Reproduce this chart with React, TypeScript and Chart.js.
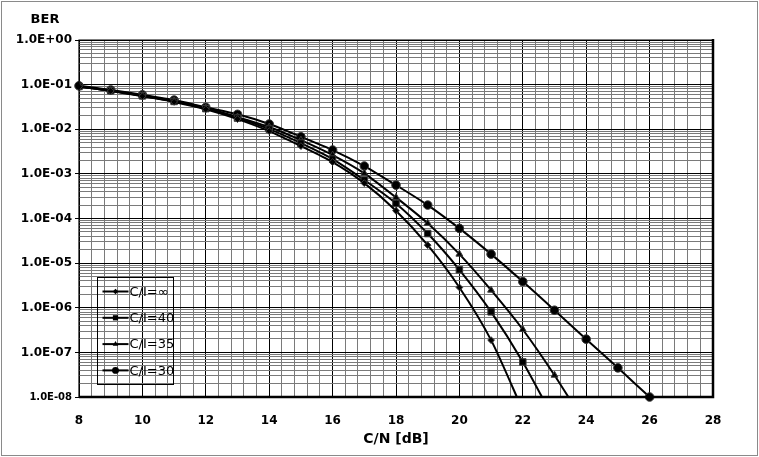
import React, { useEffect, useRef } from 'react';
import { Chart, registerables } from 'chart.js';

Chart.register(...registerables);

// ---- data ----
const cnDb = [8, 9, 10, 11, 12, 13, 14, 15, 16, 17, 18, 19, 20, 21, 22, 23, 24, 25, 26];
const berInf = [0.090, 0.072, 0.055, 0.041, 0.028, 0.0169, 0.0091, 0.0042, 0.00184, 6.2e-4, 1.49e-4, 2.53e-5, 2.85e-6, 1.88e-7, 5e-9];
const ber40 = [0.091, 0.073, 0.056, 0.042, 0.029, 0.0178, 0.0101, 0.0049, 0.00215, 7.3e-4, 2.18e-4, 4.6e-5, 7.1e-6, 8.1e-7, 6.1e-8, 3e-9];
const ber35 = [0.092, 0.074, 0.057, 0.043, 0.030, 0.0188, 0.0112, 0.0057, 0.00264, 1.03e-3, 2.97e-4, 7.8e-5, 1.59e-5, 2.48e-6, 3.26e-7, 3.08e-8, 2.3e-9];
const ber30 = [0.094, 0.076, 0.059, 0.045, 0.031, 0.0216, 0.0131, 0.0068, 0.00342, 0.0015, 5.6e-4, 2.0e-4, 6.0e-5, 1.59e-5, 3.85e-6, 8.8e-7, 1.98e-7, 4.5e-8, 1.0e-8];
const seriesLabels = ['C/I=∞', 'C/I=40', 'C/I=35', 'C/I=30'];
const seriesValues = [berInf, ber40, ber35, ber30];
const markerStyles = ['rectRot', 'rect', 'triangle', 'circle'];
const markerRadii = [3.4, 4.6, 4, 4.3];

const xMin = 8;
const xMax = 28;
const xMajorStep = 2;
const xMinorStep = 0.4;
const yMinExp = -8;
const yMaxExp = 0;
const yTitle = 'BER';
const xTitle = 'C/N [dB]';

const FONT = '"DejaVu Sans", sans-serif';

const xTicks: number[] = [];
for (let i = 0; i <= Math.round((xMax - xMin) / xMinorStep); i++) {
  xTicks.push(Math.round((xMin + i * xMinorStep) * 10) / 10);
}
const yTicks: number[] = [];
for (let e = yMinExp; e <= yMaxExp; e++) {
  for (let m = 1; m <= 9; m++) {
    if (e === yMaxExp && m > 1) break;
    yTicks.push(m * Math.pow(10, e));
  }
}

const isMajorX = (v: number) => Math.abs(v / xMajorStep - Math.round(v / xMajorStep)) < 1e-6;
const isMajorY = (v: number) => {
  const l = Math.log10(v);
  return Math.abs(l - Math.round(l)) < 1e-6;
};
const fmtY = (v: number) => {
  const e = Math.round(Math.log10(v));
  const sign = e < 0 ? '-' : '+';
  const a = Math.abs(e);
  return '1.0E' + sign + (a < 10 ? '0' + a : String(a));
};

function drawMarker(ctx: CanvasRenderingContext2D, style: string, x: number, y: number, r: number) {
  ctx.beginPath();
  if (style === 'circle') {
    ctx.arc(x, y, r, 0, Math.PI * 2);
  } else if (style === 'rect') {
    const h = r * Math.SQRT1_2;
    ctx.rect(x - h, y - h, 2 * h, 2 * h);
  } else if (style === 'rectRot') {
    ctx.moveTo(x, y - r);
    ctx.lineTo(x + r, y);
    ctx.lineTo(x, y + r);
    ctx.lineTo(x - r, y);
    ctx.closePath();
  } else if (style === 'triangle') {
    const a = (Math.PI * 2) / 3;
    ctx.moveTo(x, y - r);
    ctx.lineTo(x + Math.sin(a) * r, y - Math.cos(a) * r);
    ctx.lineTo(x + Math.sin(2 * a) * r, y - Math.cos(2 * a) * r);
    ctx.closePath();
  }
  ctx.fill();
}

const framePlugin = {
  id: 'framePlugin',
  beforeDraw(chart: any) {
    const ctx = chart.ctx;
    ctx.save();
    ctx.fillStyle = '#ffffff';
    ctx.fillRect(0, 0, chart.width, chart.height);
    ctx.restore();
  },
  afterDraw(chart: any) {
    const ctx: CanvasRenderingContext2D = chart.ctx;
    const a = chart.chartArea;
    ctx.save();
    // plot frame
    ctx.strokeStyle = '#000';
    ctx.lineWidth = 1.2;
    ctx.beginPath();
    ctx.moveTo(a.left, a.bottom);
    ctx.lineTo(a.left, a.top);
    ctx.lineTo(a.right, a.top);
    ctx.stroke();
    ctx.lineWidth = 2.5;
    ctx.beginPath();
    ctx.moveTo(a.right, a.top - 1);
    ctx.lineTo(a.right, a.bottom);
    ctx.lineTo(a.left, a.bottom);
    ctx.stroke();
    // outer border
    ctx.strokeStyle = '#8a8a8a';
    ctx.lineWidth = 1;
    ctx.strokeRect(1.5, 1.5, chart.width - 3, chart.height - 3);
    // titles
    ctx.fillStyle = '#000';
    ctx.textAlign = 'center';
    ctx.textBaseline = 'middle';
    ctx.font = 'bold 13px ' + FONT;
    ctx.fillText(yTitle, 45, 20);
    ctx.font = 'bold 14px ' + FONT;
    ctx.fillText(xTitle, (a.left + a.right) / 2, 439);
    // legend
    const bx = Math.round(a.left + 18) + 0.5;
    const by = Math.round(a.bottom - 120) + 0.5;
    ctx.strokeStyle = '#000';
    ctx.lineWidth = 1;
    ctx.strokeRect(bx, by, 76, 107);
    ctx.font = '13px ' + FONT;
    ctx.textAlign = 'left';
    for (let i = 0; i < seriesLabels.length; i++) {
      const y = by + 14 + i * 26.3;
      ctx.lineWidth = 2;
      ctx.beginPath();
      ctx.moveTo(bx + 5, y);
      ctx.lineTo(bx + 31, y);
      ctx.stroke();
      ctx.fillStyle = '#000';
      drawMarker(ctx, markerStyles[i], bx + 18, y, markerRadii[i] * 0.8);
      ctx.fillText(seriesLabels[i], bx + 32, y + 1);
    }
    ctx.restore();
  },
};

export default function App() {
  const ref = useRef<HTMLCanvasElement | null>(null);
  useEffect(() => {
    if (!ref.current) return;
    const datasets = seriesValues.map((vals, i) => ({
      label: seriesLabels[i],
      data: vals.map((v, j) => ({ x: cnDb[j], y: v })),
      borderColor: '#000',
      backgroundColor: '#000',
      borderWidth: 2,
      pointStyle: markerStyles[i] as any,
      pointRadius: markerRadii[i],
      pointBorderColor: '#3a3a3a',
      pointBorderWidth: 1,
      pointBackgroundColor: '#000',
      tension: 0.25,
      clip: i === 3 ? false : undefined,
    }));
    const chart = new Chart(ref.current, {
      type: 'line',
      data: { datasets: datasets as any },
      options: {
        responsive: false,
        animation: false,
        devicePixelRatio: 1,
        events: [],
        layout: { padding: { left: 0, top: 40, right: 46, bottom: 0 } },
        plugins: { legend: { display: false }, tooltip: { enabled: false } },
        scales: {
          x: {
            type: 'linear',
            min: xMin,
            max: xMax,
            afterBuildTicks: (s: any) => {
              s.ticks = xTicks.map((v) => ({ value: v }));
            },
            afterFit: (s: any) => {
              s.height = 60;
            },
            ticks: {
              autoSkip: false,
              maxRotation: 0,
              minRotation: 0,
              padding: 17,
              color: '#000',
              font: { family: FONT, size: 12, weight: 'bold' },
              callback: (v: any) => (isMajorX(Number(v)) ? String(Math.round(Number(v))) : ''),
            },
            grid: {
              color: (c: any) => (isMajorX(c.tick.value) ? '#000' : '#7a7a7a'),
              lineWidth: 1,
              drawTicks: false,
            },
            border: { display: false },
          },
          y: {
            type: 'logarithmic',
            min: Math.pow(10, yMinExp),
            max: Math.pow(10, yMaxExp),
            afterBuildTicks: (s: any) => {
              s.ticks = yTicks.map((v) => ({ value: v, major: isMajorY(v) }));
            },
            afterFit: (s: any) => {
              s.width = 79;
            },
            ticks: {
              autoSkip: false,
              padding: 3,
              color: '#000',
              font: (c: any) => ({
                family: FONT,
                size: c.tick && Math.round(Math.log10(c.tick.value)) === yMinExp ? 10 : 12,
                weight: 'bold',
              }),
              callback: (v: any) => (isMajorY(Number(v)) ? fmtY(Number(v)) : ''),
            },
            grid: {
              color: (c: any) => (isMajorY(c.tick.value) ? '#000' : '#7a7a7a'),
              tickColor: (c: any) => (isMajorY(c.tick.value) ? '#000' : 'rgba(0,0,0,0)'),
              lineWidth: 1,
              tickLength: 4,
            },
            border: { display: false },
          },
        },
      } as any,
      plugins: [framePlugin],
    });
    return () => chart.destroy();
  }, []);
  return (
    <div style={{ position: 'fixed', left: 0, top: 0, width: 759, height: 457, background: '#fff' }}>
      <canvas ref={ref} width={759} height={457} style={{ width: 759, height: 457, display: 'block' }} />
    </div>
  );
}
